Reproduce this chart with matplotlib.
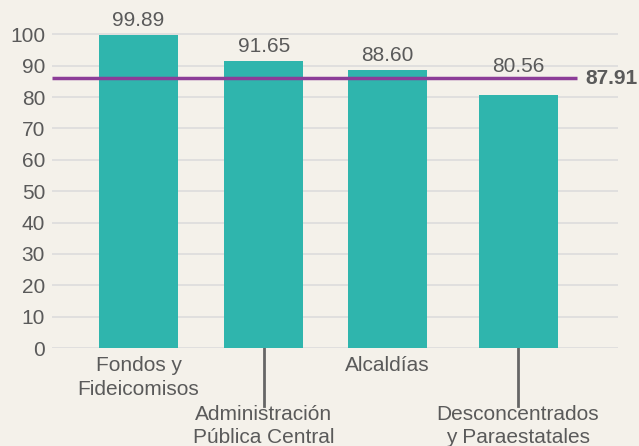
import numpy as np
from matplotlib import pyplot as plt

categorias = ["Fondos y\nFideicomisos", "Administración\nPública Central", "Alcaldías",
              "Desconcentrados\ny Paraestatales"]
valores = [99.89, 91.65, 88.60, 80.56]
promedio_etiqueta = "87.91"
promedio_linea = 86.0  # position where the reference line is drawn
y_ticks = list(range(0, 101, 10))

bar_color = "#2fb5ad"
line_color = "#8c3d98"
text_color = "#5a5a5a"
bg_color = "#f4f1ea"

plt.rcParams["font.family"] = ["Liberation Sans", "DejaVu Sans"]

fig = plt.figure(figsize=(6.39, 4.46), dpi=100, facecolor=bg_color)
ax = fig.add_axes([52 / 639, 98 / 446, (618 - 52) / 639, 345 / 446])
ax.set_facecolor(bg_color)

x = np.array([0.0, 0.99, 1.97, 3.0])
ax.bar(x, valores, width=0.625, color=bar_color, zorder=2)
for xi, v in zip(x, valores):
    y_lab = v + 1.6
    if v < promedio_linea:
        # keep the label clear of the average line
        y_lab = promedio_linea + 0.6
    ax.text(xi, y_lab, f"{v:.2f}", ha="center", va="bottom", fontsize=15, color=text_color)

x_left, x_right = -0.684, 3.79
ax.set_xlim(x_left, x_right)
ax.set_ylim(0, 110)
ax.set_yticks(y_ticks)
ax.yaxis.grid(True, color="#dcdcdc", linewidth=1.2, zorder=0)
ax.tick_params(axis="y", length=0, labelsize=15, labelcolor=text_color, pad=5)
ax.set_xticks([])
for s in ax.spines.values():
    s.set_visible(False)

# average line
ax.hlines(promedio_linea, x_left, 3.466, color=line_color, linewidth=2.5, zorder=3)
ax.text(3.53, promedio_linea, promedio_etiqueta, ha="left", va="center", fontsize=15,
        fontweight="bold", color=text_color)

# staggered category labels
for i, (xi, cat) in enumerate(zip(x, categorias)):
    if i % 2 == 0:
        ax.annotate(cat, xy=(xi, 0), xytext=(0, -6), textcoords="offset points",
                    ha="center", va="top", fontsize=15, color=text_color,
                    linespacing=1.28, annotation_clip=False)
    else:
        ax.plot([xi, xi], [0, -18.5], color="#666666", linewidth=2,
                clip_on=False, zorder=1)
        ax.annotate(cat, xy=(xi, 0), xytext=(0, -41), textcoords="offset points",
                    ha="center", va="top", fontsize=15, color=text_color,
                    linespacing=1.28, annotation_clip=False)

fig.savefig("out.png", dpi=100, facecolor=bg_color)
